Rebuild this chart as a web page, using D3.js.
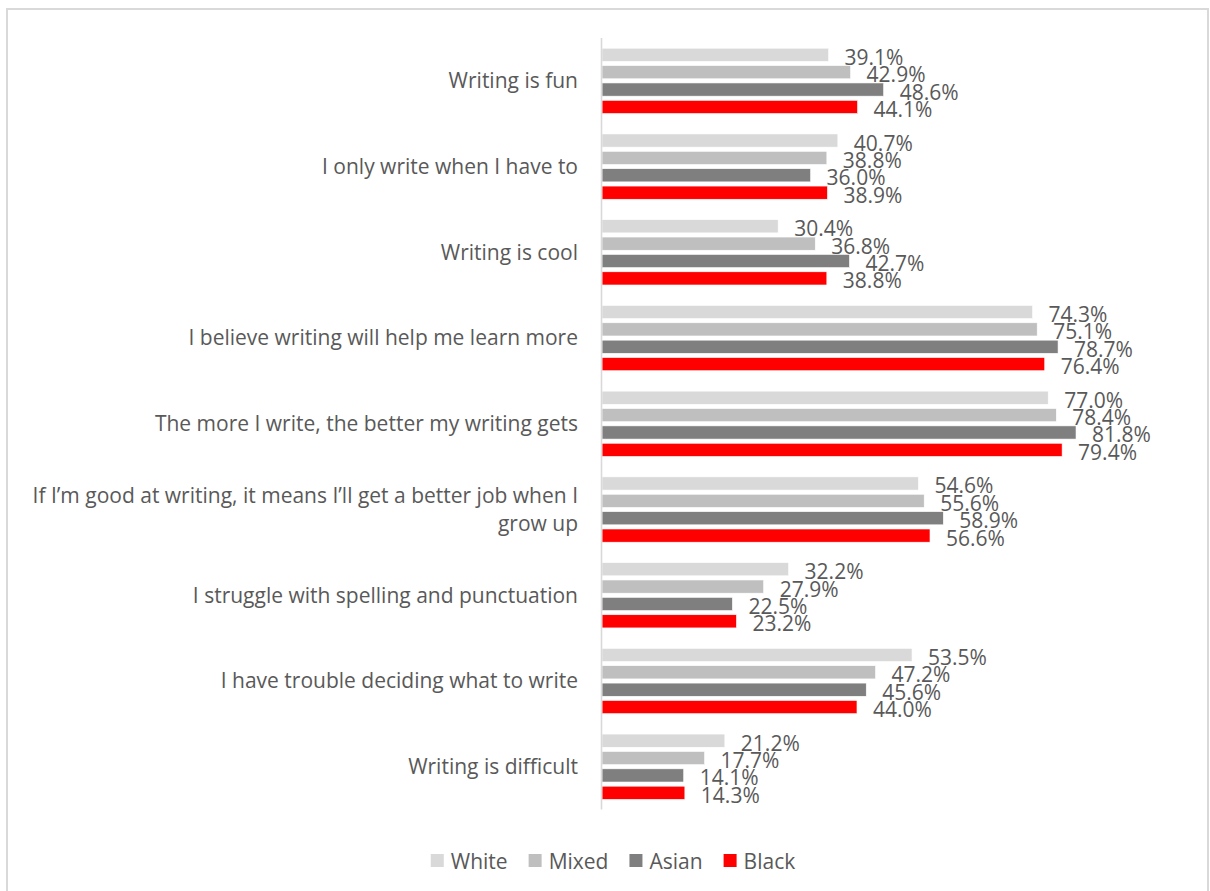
<!DOCTYPE html>
<html>
<head>
<meta charset="utf-8">
<script src="https://cdn.jsdelivr.net/npm/d3@7"></script>
<style>
  html, body { margin: 0; padding: 0; background: #fff; }
  svg { display: block; }
  text { font-family: "Open Sans", "Noto Sans", sans-serif; fill: #595959; }
</style>
</head>
<body>
<svg id="chart" width="1210" height="891"></svg>
<script>
// Survey statements (top to bottom)
const categories = [
  "Writing is fun",
  "I only write when I have to",
  "Writing is cool",
  "I believe writing will help me learn more",
  "The more I write, the better my writing gets",
  "If I\u2019m good at writing, it means I\u2019ll get a better job when I grow up",
  "I struggle with spelling and punctuation",
  "I have trouble deciding what to write",
  "Writing is difficult"
];

// Series names and colours
const seriesNames = ["White", "Mixed", "Asian", "Black"];
const seriesColors = ["#D9D9D9", "#BFBFBF", "#7F7F7F", "#FF0000"];

// Percent agreeing, per series, in category order
const whiteValues = [39.1, 40.7, 30.4, 74.3, 77.0, 54.6, 32.2, 53.5, 21.2];
const mixedValues = [42.9, 38.8, 36.8, 75.1, 78.4, 55.6, 27.9, 47.2, 17.7];
const asianValues = [48.6, 36.0, 42.7, 78.7, 81.8, 58.9, 22.5, 45.6, 14.1];
const blackValues = [44.1, 38.9, 38.8, 76.4, 79.4, 56.6, 23.2, 44.0, 14.3];

const seriesValues = [whiteValues, mixedValues, asianValues, blackValues];

const svg = d3.select("#chart");

// Outer frame of the chart area
svg.append("rect")
  .attr("x", 7).attr("y", 9)
  .attr("width", 1201).attr("height", 900)
  .attr("fill", "#fff")
  .attr("stroke", "#D9D9D9")
  .attr("stroke-width", 2);

const x = d3.scaleLinear().domain([0, 100]).range([602, 1181.5]);

const y = d3.scaleBand()
  .domain(categories)
  .range([38, 809.6])
  .paddingInner(0.23)
  .paddingOuter(0.115);

const yInner = d3.scaleBand()
  .domain(seriesNames)
  .range([0, y.bandwidth()])
  .paddingInner(0.24)
  .paddingOuter(0.02);

// Rows of data: one per category/series pair
const rows = [];
categories.forEach((c, i) => {
  seriesNames.forEach((s, j) => {
    rows.push({ category: c, series: s, value: seriesValues[j][i], color: seriesColors[j] });
  });
});

const plot = svg.append("g");

plot.selectAll("rect.bar")
  .data(rows)
  .join("rect")
  .attr("class", "bar")
  .attr("x", x(0))
  .attr("y", d => y(d.category) + yInner(d.series))
  .attr("width", d => x(d.value) - x(0))
  .attr("height", yInner.bandwidth())
  .attr("fill", d => d.color)
  .attr("stroke", "#ffffff")
  .attr("stroke-width", 0.6);

// Value labels at the outer end of each bar
plot.selectAll("text.val")
  .data(rows)
  .join("text")
  .attr("class", "val")
  .attr("x", d => x(d.value) + 16)
  .attr("y", d => y(d.category) + yInner(d.series) + yInner.bandwidth() / 2 + 2)
  .attr("dominant-baseline", "central")
  .style("font-size", "21px")
  .text(d => d.value.toFixed(1) + "%");

// Vertical category axis line
svg.append("line")
  .attr("x1", 601.5).attr("x2", 601.5)
  .attr("y1", 38).attr("y2", 809.6)
  .attr("stroke", "#D9D9D9")
  .attr("stroke-width", 1.6);

// Category labels, wrapped to the available width
const yAxis = d3.axisLeft(y).tickSize(0).tickPadding(0);
const axisG = svg.append("g")
  .attr("transform", "translate(578,0)")
  .call(yAxis);
axisG.select(".domain").remove();
axisG.selectAll("text")
  .style("font-size", "21px")
  .style("font-family", "\"Open Sans\", \"Noto Sans\", sans-serif")
  .attr("fill", "#595959")
  .attr("x", 0)
  .attr("text-anchor", "end")
  .each(function() { wrap(d3.select(this), 568); });

function wrap(text, width) {
  const words = text.text().split(/\s+/);
  const lineH = 28.5;
  text.text(null);
  let lines = [];
  let line = [];
  const probe = text.append("tspan");
  words.forEach(w => {
    line.push(w);
    probe.text(line.join(" "));
    if (probe.node().getComputedTextLength() > width && line.length > 1) {
      line.pop();
      lines.push(line.join(" "));
      line = [w];
    }
  });
  lines.push(line.join(" "));
  probe.remove();
  const offset = -(lines.length - 1) / 2 * lineH;
  text.attr("dy", null);
  lines.forEach((l, i) => {
    text.append("tspan")
      .attr("x", 0)
      .attr("y", offset + i * lineH)
      .attr("dy", "0.35em")
      .text(l);
  });
}

// Legend centred below the plot
const legend = svg.append("g");
let lx = 0;
seriesNames.forEach((s, i) => {
  const g = legend.append("g");
  g.append("rect")
    .attr("x", 0).attr("y", -7)
    .attr("width", 13).attr("height", 13)
    .attr("fill", seriesColors[i]);
  const t = g.append("text")
    .attr("x", 20).attr("y", 0)
    .attr("dominant-baseline", "central")
    .style("font-size", "21px")
    .text(s);
  const w = 20 + t.node().getComputedTextLength();
  g.attr("transform", `translate(${lx},0)`);
  lx += w + 21;
});
const legendW = lx - 21;
legend.attr("transform", `translate(${613 - legendW / 2},861)`);
</script>
</body>
</html>
